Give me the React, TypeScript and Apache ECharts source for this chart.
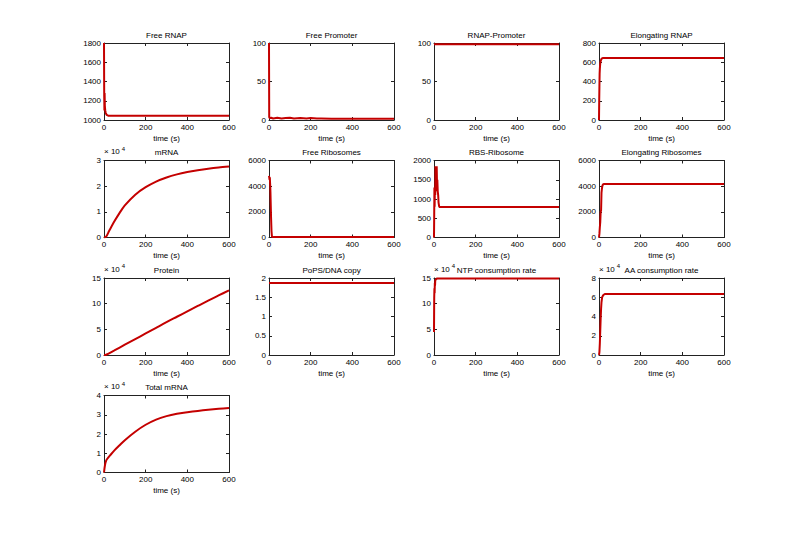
import React, { useEffect, useRef } from "react";
import * as echarts from "echarts";

// ---------- data ----------
const freeRnapT = [0, 1, 2, 3, 4, 5, 6, 8, 10, 12, 15, 20, 30, 600];
const freeRnapV = [1800, 1250, 1100, 1280, 1150, 1120, 1100, 1075, 1065, 1055, 1050, 1045, 1045, 1045];

const freePromoterT = [0, 1, 2, 5, 10, 20, 40, 60, 80, 100, 120, 150, 180, 200, 230, 250, 300, 400, 500, 600];
const freePromoterV = [100, 4, 3, 2.5, 3, 2, 3, 2, 2.5, 3, 2, 2.5, 2, 2.5, 2, 2, 1.5, 1.5, 1.5, 1.5];

const rnapPromoterT = [0, 600];
const rnapPromoterV = [98.5, 98.5];

const elongRnapT = [0, 1, 2, 3, 4, 5, 6, 8, 10, 12, 15, 20, 25, 30, 600];
const elongRnapV = [0, 200, 350, 480, 530, 560, 590, 610, 625, 635, 640, 645, 645, 645, 645];

const mrnaT = [0, 10, 25, 50, 75, 100, 150, 200, 250, 300, 350, 400, 450, 500, 550, 600];
const mrnaV = [0, 300, 2600, 6300, 9600, 12500, 16700, 19600, 21800, 23400, 24600, 25500, 26200, 26800, 27300, 27700];

const freeRiboT = [0, 1, 2, 3, 4, 5, 6, 7, 8, 10, 12, 14, 16, 20, 600];
const freeRiboV = [4800, 4700, 4600, 4500, 4700, 4300, 4000, 3500, 2800, 1500, 500, 100, 40, 30, 30];

const rbsRiboT = [0, 1, 2, 3, 4, 5, 6, 7, 8, 9, 10, 11, 12, 13, 14, 15, 16, 18, 20, 22, 25, 28, 30, 600];
const rbsRiboV = [0, 600, 1300, 800, 1200, 1300, 1100, 1850, 1500, 1850, 1200, 1850, 1700, 1850, 1850, 1200, 1500, 1200, 1100, 900, 800, 790, 790, 790];

const elongRiboT = [0, 2, 4, 6, 8, 10, 12, 14, 16, 18, 20, 25, 30, 600];
const elongRiboV = [0, 300, 800, 1200, 2000, 2100, 3500, 3800, 4000, 4100, 4150, 4170, 4170, 4170];

const proteinT = [0, 10, 50, 100, 150, 200, 250, 300, 350, 400, 450, 500, 550, 600];
const proteinV = [0, 500, 9000, 20000, 31000, 42000, 53000, 64000, 74500, 85000, 95500, 106000, 116000, 126000];

const popsT = [0, 600];
const popsV = [1.87, 1.87];

const ntpT = [0, 1, 2, 3, 4, 5, 6, 8, 10, 12, 15, 20, 600];
const ntpV = [45000, 110000, 130000, 120000, 140000, 135000, 145000, 146000, 148000, 149000, 149000, 149000, 149000];

const aaT = [0, 2, 4, 6, 8, 10, 12, 15, 20, 25, 30, 40, 600];
const aaV = [0, 3000, 12000, 25000, 38000, 48000, 55000, 60000, 62000, 63000, 63500, 63500, 63500];

const totalMrnaT = [0, 5, 10, 15, 30, 50, 75, 100, 150, 200, 250, 300, 350, 400, 450, 500, 550, 600];
const totalMrnaV = [0, 4000, 6000, 7000, 9000, 11500, 14200, 16800, 21200, 24800, 27500, 29300, 30500, 31300, 32000, 32600, 33100, 33500];

const xTicks = { min: 0, max: 600, interval: 200 };

const panels = [
  { title: "Free RNAP", t: freeRnapT, v: freeRnapV, min: 1000, max: 1800, interval: 200, exp: false, smooth: false },
  { title: "Free Promoter", t: freePromoterT, v: freePromoterV, min: 0, max: 100, interval: 50, exp: false, smooth: false },
  { title: "RNAP-Promoter", t: rnapPromoterT, v: rnapPromoterV, min: 0, max: 100, interval: 50, exp: false, smooth: false },
  { title: "Elongating RNAP", t: elongRnapT, v: elongRnapV, min: 0, max: 800, interval: 200, exp: false, smooth: false },
  { title: "mRNA", t: mrnaT, v: mrnaV, min: 0, max: 30000, interval: 10000, exp: true, smooth: true },
  { title: "Free Ribosomes", t: freeRiboT, v: freeRiboV, min: 0, max: 6000, interval: 2000, exp: false, smooth: false },
  { title: "RBS-Ribosome", t: rbsRiboT, v: rbsRiboV, min: 0, max: 2000, interval: 500, exp: false, smooth: false },
  { title: "Elongating Ribosomes", t: elongRiboT, v: elongRiboV, min: 0, max: 6000, interval: 2000, exp: false, smooth: false },
  { title: "Protein", t: proteinT, v: proteinV, min: 0, max: 150000, interval: 50000, exp: true, smooth: true },
  { title: "PoPS/DNA copy", t: popsT, v: popsV, min: 0, max: 2, interval: 0.5, exp: false, smooth: false },
  { title: "NTP consumption rate", t: ntpT, v: ntpV, min: 0, max: 150000, interval: 50000, exp: true, smooth: false },
  { title: "AA consumption rate", t: aaT, v: aaV, min: 0, max: 80000, interval: 20000, exp: true, smooth: false },
  { title: "Total mRNA", t: totalMrnaT, v: totalMrnaV, min: 0, max: 40000, interval: 10000, exp: true, smooth: true },
];

// ---------- layout ----------
const COL_LEFT = [104, 269, 434, 599];
const ROW_TOP = [43, 160.5, 278, 395.5];
const PW = 125;
const PH = 77;
const FONT = "'Liberation Sans', Arial, Helvetica, sans-serif";
const AXIS_COLOR = "#222";
const LINE_COLOR = "#c40000";

function buildOption() {
  const grid: any[] = [];
  const xAxis: any[] = [];
  const yAxis: any[] = [];
  const series: any[] = [];
  panels.forEach((p, i) => {
    const col = i % 4;
    const row = Math.floor(i / 4);
    grid.push({ left: COL_LEFT[col], top: ROW_TOP[row], width: PW, height: PH, containLabel: false });
    const axisLine = { show: true, onZero: false, lineStyle: { color: AXIS_COLOR, width: 1 } };
    const axisTick = { show: true, inside: true, length: 3, lineStyle: { color: AXIS_COLOR } };
    const nameStyle = { fontSize: 8, color: "#000", fontFamily: FONT, fontWeight: "normal" };
    xAxis.push({
      type: "value", gridIndex: i, position: "bottom", ...xTicks,
      axisLine, axisTick,
      axisLabel: { fontSize: 8, color: "#000", margin: 3, fontFamily: FONT, formatter: (v: number) => String(v) },
      splitLine: { show: false },
      name: "time (s)", nameLocation: "middle", nameGap: 14,
      nameTextStyle: nameStyle,
    });
    xAxis.push({
      type: "value", gridIndex: i, position: "top", ...xTicks,
      axisLine, axisTick,
      axisLabel: { show: false },
      splitLine: { show: false },
      name: p.title, nameLocation: "middle", nameGap: 4,
      nameTextStyle: nameStyle,
    });
    yAxis.push({
      type: "value", gridIndex: i, position: "left", min: p.min, max: p.max, interval: p.interval,
      axisLine, axisTick,
      axisLabel: {
        fontSize: 8, color: "#000", margin: 3, fontFamily: FONT,
        formatter: p.exp
          ? (v: number) => String(Math.round((v / 1e4) * 100) / 100)
          : (v: number) => String(v),
      },
      splitLine: { show: false },
      name: p.exp ? "{a|× 10}{b|4}" : "",
      nameLocation: "end", nameGap: 3,
      nameTextStyle: {
        align: "left", verticalAlign: "bottom", fontFamily: FONT, color: "#000", fontWeight: "normal",
        rich: {
          a: { fontSize: 8, fontFamily: FONT, color: "#000" },
          b: { fontSize: 6, fontFamily: FONT, color: "#000", padding: [0, 0, 6, 2] },
        },
      },
    });
    yAxis.push({
      type: "value", gridIndex: i, position: "right", min: p.min, max: p.max, interval: p.interval,
      axisLine, axisTick,
      axisLabel: { show: false },
      splitLine: { show: false },
    });
    series.push({
      type: "line", xAxisIndex: 2 * i, yAxisIndex: 2 * i,
      data: p.t.map((t, k) => [t, p.v[k]]),
      showSymbol: false, symbol: "none",
      smooth: p.smooth ? 0.3 : false,
      lineStyle: { color: LINE_COLOR, width: 2 },
      itemStyle: { color: LINE_COLOR },
      clip: true,
    });
  });
  return {
    animation: false,
    backgroundColor: "#fff",
    textStyle: { fontFamily: FONT },
    grid, xAxis, yAxis, series,
  };
}

export default function App() {
  const ref = useRef<HTMLDivElement>(null);
  useEffect(() => {
    if (!ref.current) return;
    const chart = echarts.init(ref.current, undefined, { renderer: "svg" });
    chart.setOption(buildOption() as any);
    return () => chart.dispose();
  }, []);
  return (
    <div
      ref={ref}
      style={{ position: "fixed", left: 0, top: 0, width: 800, height: 535, background: "#fff" }}
    />
  );
}
